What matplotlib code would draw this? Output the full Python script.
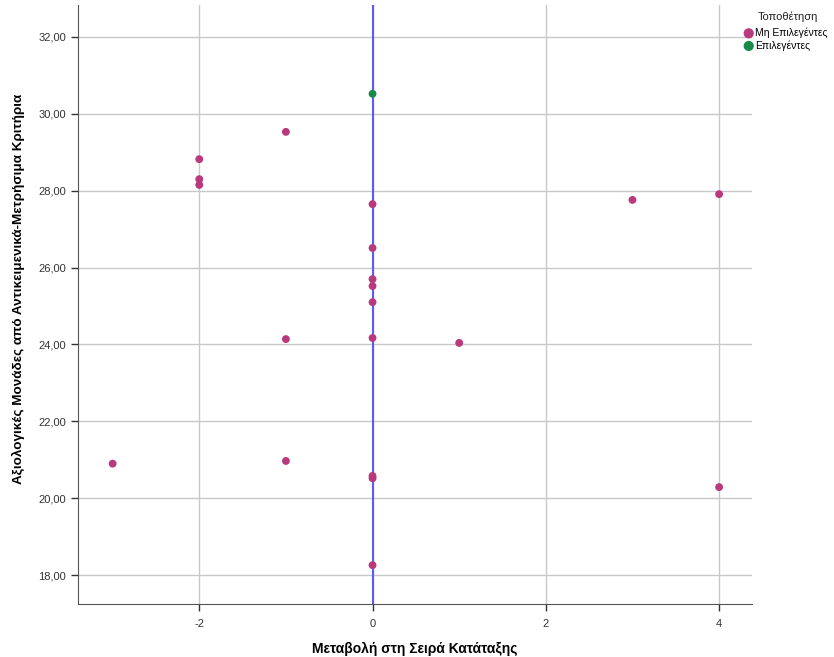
import matplotlib
matplotlib.use("Agg")
import matplotlib.pyplot as plt
from matplotlib.ticker import FuncFormatter

plt.rcParams["font.family"] = ["Liberation Sans", "DejaVu Sans"]
plt.rcParams["axes.unicode_minus"] = False

# Δεδομένα: μεταβολή στη σειρά κατάταξης και αξιολογικές μονάδες
x_mh = [-3, -2, -2, -2, -1, -1, -1, 0, 0, 0, 0, 0, 0, 0, 0, 0, 1, 3, 4, 4]
y_mh = [20.90, 28.82, 28.30, 28.15, 29.53, 24.14, 20.97, 27.65, 26.51, 25.70,
        25.52, 25.10, 24.17, 20.58, 20.52, 18.26, 24.04, 27.76, 27.91, 20.29]
x_ep = [0]
y_ep = [30.52]

x_ticks = [-2, 0, 2, 4]
y_ticks = [18, 20, 22, 24, 26, 28, 30, 32]

fig = plt.figure(figsize=(8.34, 6.57), dpi=100)
ax = fig.add_axes([0.0935, 0.0807, 0.8082, 0.9117])

ax.grid(True, color="#c8c8c8", linewidth=1)
ax.set_axisbelow(True)
ax.axvline(0, color="#5a5aff", linewidth=1.5, zorder=2)

ax.scatter(x_mh, y_mh, s=32, color="#b8397c", edgecolors="none", zorder=3,
           label="Μη Επιλεγέντες")
ax.scatter(x_ep, y_ep, s=32, color="#1a8a4a", edgecolors="none", zorder=3,
           label="Επιλεγέντες")

ax.set_xlim(-3.40, 4.38)
ax.set_ylim(17.25, 32.83)
ax.set_xticks(x_ticks)
ax.set_yticks(y_ticks)
ax.yaxis.set_major_formatter(FuncFormatter(lambda v, p: f"{v:.2f}".replace(".", ",")))
ax.tick_params(labelsize=8, colors="#333333", length=5, width=1)
ax.tick_params(axis="x", pad=6)

for s in ["top", "right"]:
    ax.spines[s].set_visible(False)
for s in ["left", "bottom"]:
    ax.spines[s].set_color("#555555")

ax.set_xlabel("Μεταβολή στη Σειρά Κατάταξης", fontsize=10, fontweight="bold", labelpad=9)
ax.set_ylabel("Αξιολογικές Μονάδες από Αντικειμενικά-Μετρήσιμα Κριτήρια",
              fontsize=9.7, fontweight="bold")
ax.yaxis.set_label_coords(-0.079, 0.526)

# υπόμνημα
fig.text(0.945, 0.974, "Τοποθέτηση", fontsize=8, ha="center", va="center", color="#222222")
leg = fig.legend(loc="upper left", bbox_to_anchor=(0.8915, 0.958),
                 frameon=False, fontsize=7.5, handletextpad=0.1,
                 handlelength=1.0, borderaxespad=0, borderpad=0,
                 labelspacing=0.2, markerscale=1.3)

fig.savefig("out.png", dpi=100)
